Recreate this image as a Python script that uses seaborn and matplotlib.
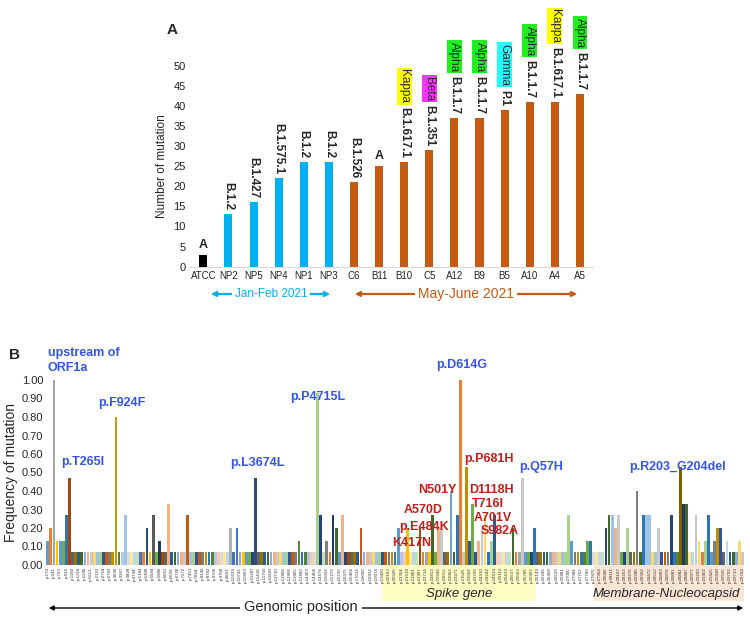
import matplotlib
matplotlib.use('Agg')
import matplotlib.pyplot as plt
from matplotlib.patches import Rectangle, FancyArrowPatch
import pandas as pd
import seaborn as sns

# ---- Panel A: number of mutations per isolate ----
strains = ['ATCC', 'NP2', 'NP5', 'NP4', 'NP1', 'NP3', 'C6', 'B11', 'B10', 'C5',
           'A12', 'B9', 'B5', 'A10', 'A4', 'A5']
n_mut = [3, 13, 16, 22, 26, 26, 21, 25, 26, 29, 37, 37, 39, 41, 41, 43]
lineage = ['A', 'B.1.2', 'B.1.427', 'B.1.575.1', 'B.1.2', 'B.1.2', 'B.1.526', 'A',
           'B.1.617.1', 'B.1.351', 'B.1.1.7', 'B.1.1.7', 'P.1', 'B.1.1.7', 'B.1.617.1', 'B.1.1.7']
variant = ['', '', '', '', '', '', '', '', 'Kappa', 'Beta', 'Alpha', 'Alpha', 'Gamma',
           'Alpha', 'Kappa', 'Alpha']
period = ['ATCC'] + ['Jan-Feb 2021'] * 5 + ['May-June 2021'] * 10

# ---- Panel B: frequency of each mutation among 15 isolates (genomic order) ----
freq = [0.13, 0.20, 1.00, 0.13, 0.13, 0.13, 0.27, 0.47, 0.07, 0.07,
        0.07, 0.07, 0.07, 0.07, 0.07, 0.07, 0.07, 0.07, 0.07, 0.07,
        0.07, 0.07, 0.80, 0.07, 0.07, 0.27, 0.07, 0.07, 0.07, 0.07,
        0.07, 0.07, 0.20, 0.07, 0.27, 0.07, 0.13, 0.07, 0.07, 0.33,
        0.07, 0.07, 0.07, 0.07, 0.07, 0.27, 0.07, 0.07, 0.07, 0.07,
        0.07, 0.07, 0.07, 0.07, 0.07, 0.07, 0.07, 0.07, 0.07, 0.20,
        0.07, 0.20, 0.07, 0.07, 0.07, 0.07, 0.07, 0.47, 0.07, 0.07,
        0.07, 0.07, 0.07, 0.07, 0.07, 0.07, 0.07, 0.07, 0.07, 0.07,
        0.07, 0.13, 0.07, 0.07, 0.07, 0.07, 0.07, 0.93, 0.27, 0.07,
        0.13, 0.07, 0.27, 0.20, 0.07, 0.27, 0.07, 0.07, 0.07, 0.07,
        0.07, 0.20, 0.07, 0.07, 0.07, 0.07, 0.07, 0.07, 0.07, 0.07,
        0.07, 0.07, 0.07, 0.20, 0.07, 0.07, 0.20, 0.07, 0.07, 0.07,
        0.20, 0.07, 0.07, 0.07, 0.27, 0.07, 0.20, 0.20, 0.07, 0.07,
        0.40, 0.07, 0.27, 1.00, 0.07, 0.53, 0.13, 0.33, 0.07, 0.13,
        0.20, 0.27, 0.07, 0.13, 0.27, 0.07, 0.07, 0.07, 0.07, 0.07,
        0.20, 0.07, 0.07, 0.47, 0.07, 0.07, 0.07, 0.20, 0.07, 0.07,
        0.07, 0.07, 0.07, 0.07, 0.07, 0.07, 0.07, 0.07, 0.27, 0.13,
        0.07, 0.07, 0.07, 0.07, 0.13, 0.13, 0.07, 0.07, 0.07, 0.07,
        0.20, 0.27, 0.27, 0.20, 0.27, 0.07, 0.07, 0.20, 0.07, 0.07,
        0.40, 0.07, 0.27, 0.27, 0.27, 0.07, 0.07, 0.20, 0.07, 0.07,
        0.07, 0.27, 0.07, 0.07, 0.53, 0.33, 0.33, 0.07, 0.07, 0.27,
        0.13, 0.07, 0.13, 0.27, 0.07, 0.13, 0.20, 0.20, 0.07, 0.13,
        0.07, 0.07, 0.07, 0.13, 0.07]

# tick labels, one every second bar
pos_labels = ['p.174', 'p.241', 'p.723', 'p.913', 'p.1180', 'p.1218', 'p.1280', 'p.1612', 'p.2110', 'p.2718',
              'p.2749', 'p.3096', 'p.3267', 'p.3828', 'p.4794', 'p.5184', 'p.5388', 'p.5584', 'p.5986', 'p.6031',
              'p.6639', 'p.6730', 'p.7272', 'p.7451', 'p.7664', 'p.8140', 'p.8782', 'p.9700', 'p.9750', 'p.9891',
              'p.10319', 'p.10741', 'p.10963', 'p.11287', 'p.11418', 'p.11750', 'p.11833', 'p.12710', 'p.12804', 'p.12906',
              'p.13405', 'p.13860', 'p.14362', 'p.14408', 'p.14676', 'p.15096', 'p.15279', 'p.15720', 'p.16375', 'p.16466',
              'p.17014', 'p.18060', 'p.18432', 'p.19074', 'p.19480', 'p.20163', 'p.20320', 'p.21304', 'p.21618', 'p.21801',
              'p.21987', 'p.22714', 'p.22813', 'p.22946', 'p.23012', 'p.23063', 'p.23271', 'p.23525', 'p.23604', 'p.23709',
              'p.24410', 'p.24642', 'p.24914', 'p.25112', 'p.25413', 'p.25517', 'p.25563', 'p.25785', 'p.25907', 'p.26149',
              'p.26246', 'p.26408', 'p.26539', 'p.26881', 'p.27005', 'p.27384', 'p.27752', 'p.27760', 'p.27870', 'p.27964',
              'p.28086', 'p.28111', 'p.28167', 'p.28253', 'p.28270', 'p.28280', 'p.28362', 'p.28472', 'p.28512', 'p.28869',
              'p.28878', 'p.28881', 'p.28882', 'p.28887', 'p.28977', 'p.29260', 'p.29402', 'p.29425', 'p.29438', 'p.29555',
              'p.29703', 'p.29719', 'p.29764']

# Excel-like colour cycle for the bars, plus colours of the taller bars
cycle = ['#4472C4', '#ED7D31', '#A5A5A5', '#FFC000', '#5B9BD5', '#70AD47',
         '#264478', '#9E480E', '#636363', '#997300', '#255E91', '#43682B',
         '#8FAADC', '#F4B183', '#C9C9C9', '#FFD966', '#9DC3E6', '#A9D18E',
         '#2F5597', '#C55A11', '#7B7B7B', '#BF9000', '#2E75B6', '#548235',
         '#B4C7E7', '#F8CBAD', '#DBDBDB', '#FFE699', '#BDD7EE', '#C5E0B4']
bar_colors = {0: '#5B9BD5', 1: '#ED7D31', 2: '#A5A5A5', 6: '#3B70A8', 7: '#9E480E',
              22: '#C99A06', 25: '#9DC3E6', 32: '#2B4E7E', 34: '#595959', 36: '#203864',
              39: '#F4B183', 45: '#C55A11', 59: '#B0B0B0', 61: '#4472C4', 67: '#2F4D7A',
              81: '#5A8A39', 87: '#A9D18E', 88: '#264478', 90: '#7F7F7F', 92: '#1F3864',
              93: '#43682B', 95: '#F4B183', 101: '#C55A11', 113: '#5B9BD5', 116: '#FFC000',
              120: '#9E480E', 124: '#43682B', 126: '#F4B183', 127: '#C9C9C9', 130: '#6FA0D8',
              132: '#2E75B6', 133: '#ED7D31', 135: '#BF9000', 136: '#2F5597', 137: '#70AD47',
              139: '#F4B183', 140: '#C9C9C9', 141: '#FFD966', 143: '#A9D18E', 144: '#255E91',
              150: '#43682B', 153: '#C9C9C9', 157: '#2E75B6', 168: '#A9D18E', 169: '#5B9BD5',
              174: '#70AD47', 175: '#2E75B6', 180: '#264478', 181: '#43682B', 182: '#9DC3E6',
              183: '#F4B183', 184: '#C9C9C9', 187: '#A9D18E', 190: '#7F7F7F', 192: '#2E75B6',
              193: '#9DC3E6', 194: '#9DC3E6', 197: '#C9C9C9', 201: '#264478', 204: '#7F6000',
              205: '#203864', 206: '#43682B', 209: '#C9C9C9', 210: '#FFD966', 212: '#A9D18E',
              213: '#2E75B6', 215: '#7F7F7F', 216: '#BF9000', 217: '#2F5597', 219: '#BDD7EE',
              223: '#FFD966'}

sns.set_theme(style='white')
plt.rcParams['font.family'] = ['Liberation Sans', 'DejaVu Sans']

W, H = 750, 619
fig = plt.figure(figsize=(W / 100, H / 100), dpi=100)


def fx(px):
    return px / W


def fy(py):
    return 1 - py / H


# ---------------- Panel A ----------------
axA = fig.add_axes([fx(190), fy(266.7), fx(593) - fx(190), fy(65.7) - fy(266.7)])
df_a = pd.DataFrame({'strain': strains, 'n': n_mut, 'period': period})
pal_a = {'ATCC': '#000000', 'Jan-Feb 2021': '#00B0F0', 'May-June 2021': '#C55A11'}
sns.barplot(data=df_a, x='strain', y='n', hue='period', palette=pal_a, order=strains,
            dodge=False, width=0.32, legend=False, saturation=1, linewidth=0, ax=axA)
axA.set_xlim(-0.53, 15.52)
axA.set_ylim(0, 50)
axA.set_yticks(range(0, 51, 5))
axA.set_xlabel('')
axA.set_ylabel('Number of mutation', fontsize=8.5, labelpad=4)
axA.tick_params(axis='both', length=0, labelsize=7, colors='#222222', pad=3)
axA.tick_params(axis='y', labelsize=8)
for s in ['top', 'right', 'left']:
    axA.spines[s].set_visible(False)
axA.spines['bottom'].set_color('#D9D9D9')
axA.spines['bottom'].set_linewidth(0.8)

var_colors = {'Kappa': '#FFFF00', 'Beta': '#FF33FF', 'Alpha': '#22EE22', 'Gamma': '#22FFFF'}
lin_texts = []
for i, (n, lin) in enumerate(zip(n_mut, lineage)):
    if lin == 'A':
        t = axA.text(i, n + 1.0, lin, ha='center', va='bottom', fontsize=9, fontweight='bold')
    else:
        t = axA.text(i, n + 1.0, lin, ha='center', va='bottom', rotation=270,
                     fontsize=8.5, fontweight='bold', clip_on=False)
    lin_texts.append(t)

fig.canvas.draw()
renderer = fig.canvas.get_renderer()
inv = axA.transData.inverted()
for i, (t, var) in enumerate(zip(lin_texts, variant)):
    if not var:
        continue
    bb = t.get_window_extent(renderer)
    ytop = inv.transform((0, bb.y1 + 4))[1]
    axA.text(i, ytop, var, ha='center', va='bottom', rotation=270, fontsize=8.5,
             clip_on=False, bbox=dict(boxstyle='square,pad=0.12', fc=var_colors[var], ec='none'))

# period arrows under panel A
for x0, x1, xt, label, col, fs in [(208, 333, 271, 'Jan-Feb 2021', '#00B0F0', 8.5),
                                   (352, 580, 466, 'May-June 2021', '#C55A11', 10)]:
    fig.add_artist(FancyArrowPatch(
        (fx(x0), fy(294)), (fx(x1), fy(294)), transform=fig.transFigure,
        arrowstyle='<|-|>', mutation_scale=7, color=col, lw=1.6))
    fig.text(fx(xt), fy(294), label, color=col, fontsize=fs, ha='center', va='center',
             bbox=dict(boxstyle='square,pad=0.25', fc='white', ec='none'))

fig.text(fx(172), fy(30), 'A', fontsize=11, fontweight='bold', ha='center', va='center')

# ---------------- Panel B ----------------
axB = fig.add_axes([fx(46.2), fy(565), fx(744) - fx(46.2), fy(380) - fy(565)])
idx = list(range(len(freq)))
colors_b = [bar_colors.get(i, cycle[i % len(cycle)]) for i in idx]
df_b = pd.DataFrame({'pos': [str(i) for i in idx], 'freq': freq})
sns.barplot(data=df_b, x='pos', y='freq', hue='pos', palette=colors_b, dodge=False,
            width=0.9, legend=False, saturation=1, linewidth=0, ax=axB)
axB.set_xlim(-0.5, len(freq) - 0.5)
axB.set_ylim(0, 1.0)
axB.set_yticks([i / 10 for i in range(11)])
axB.set_yticklabels([f'{i / 10:.2f}' for i in range(11)])
axB.set_xticks(range(0, 2 * len(pos_labels), 2))
axB.set_xticklabels(pos_labels, rotation=90, fontsize=3.2, color='#333333')
axB.set_xlabel('')
axB.set_ylabel('Frequency of mutation', fontsize=10, labelpad=3)
axB.tick_params(axis='x', length=0, pad=1.5)
axB.tick_params(axis='y', length=0, labelsize=8, pad=2)
for s in axB.spines.values():
    s.set_visible(False)

# gene region boxes under the axis
box_bottom = -0.195
axB.add_patch(Rectangle((107.8, box_bottom), 157.5 - 107.8, -box_bottom, transform=axB.transData,
                        fc='#FFFCC4', ec='none', clip_on=False, zorder=0))
axB.add_patch(Rectangle((176.0, box_bottom), 224.6 - 176.0, -box_bottom, transform=axB.transData,
                        fc='#FBE5D6', ec='none', clip_on=False, zorder=0))
axB.text((107.8 + 157.5) / 2, -0.155, 'Spike gene', fontsize=9.5, style='italic',
         ha='center', va='center')
axB.text(199.5, -0.155, 'Membrane-Nucleocapsid', fontsize=9.5, style='italic',
         ha='center', va='center')

blue = '#3355EE'
red = '#C0201A'
blue_labels = [(0.0, 1.105, 'upstream of\nORF1a', 'left'), (11.2, 0.557, 'p.T265I', 'center'),
               (24.0, 0.876, 'p.F924F', 'center'), (67.6, 0.551, 'p.L3674L', 'center'),
               (87.0, 0.908, 'p.P4715L', 'center'), (133.6, 1.08, 'p.D614G', 'center'),
               (159.0, 0.53, 'p.Q57H', 'center'), (203.1, 0.53, 'p.R203_G204del', 'center')]
for x, y, s, ha in blue_labels:
    axB.text(x, y, s, color=blue, fontsize=9, fontweight='bold', ha=ha, va='center',
             linespacing=1.3, clip_on=False)
red_labels = [(125.6, 0.405, 'N501Y'), (121.2, 0.297, 'A570D'), (121.4, 0.205, 'p.E484K'),
              (117.5, 0.119, 'K417N'), (142.4, 0.573, 'p.P681H'), (143.2, 0.405, 'D1118H'),
              (141.9, 0.330, 'T716I'), (143.6, 0.254, 'A701V'), (145.6, 0.184, 'S982A')]
for x, y, s in red_labels:
    axB.text(x, y, s, color=red, fontsize=9, fontweight='bold', ha='center', va='center',
             clip_on=False)

# genomic position arrow
fig.add_artist(FancyArrowPatch(
    (fx(46), fy(608)), (fx(746), fy(608)), transform=fig.transFigure,
    arrowstyle='<|-|>', mutation_scale=7, color='black', lw=1.0))
fig.text(fx(301), fy(607), 'Genomic position', fontsize=10.5, ha='center', va='center',
         bbox=dict(boxstyle='square,pad=0.3', fc='white', ec='none'))

fig.text(fx(15), fy(355), 'B', fontsize=11, fontweight='bold', ha='center', va='center')

fig.savefig('out.png', dpi=100)
